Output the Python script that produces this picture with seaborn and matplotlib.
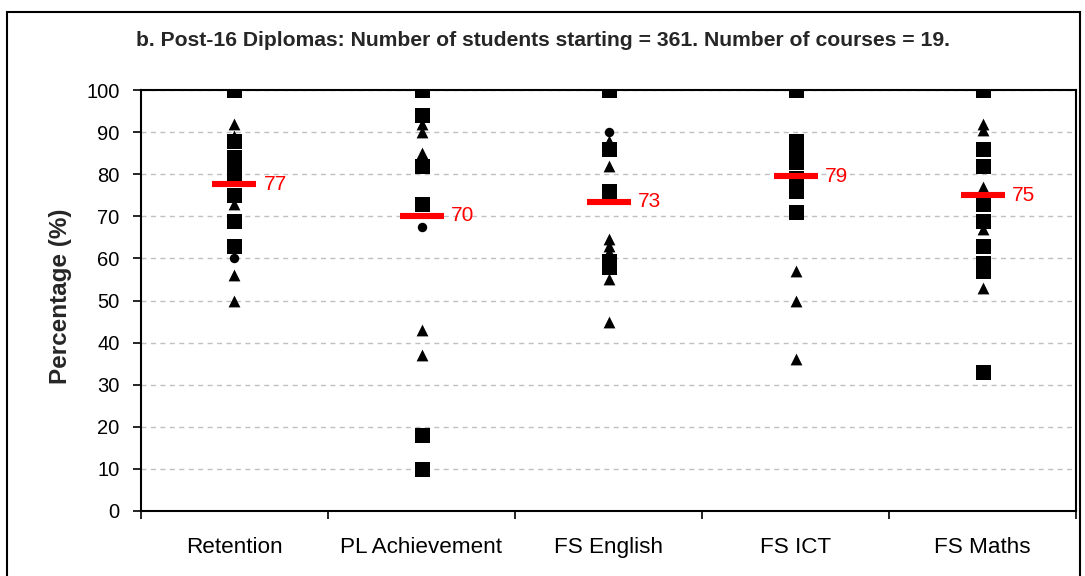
import numpy as np
import pandas as pd
import seaborn as sns
import matplotlib.pyplot as plt
from matplotlib.patches import Rectangle

sns.set_theme(style="white")
plt.rcParams['font.family'] = ['Liberation Sans', 'DejaVu Sans']

categories = ["Retention", "PL Achievement", "FS English", "FS ICT", "FS Maths"]

# per-course percentages, split by the marker used in the original
squareValues = [
    [100, 88, 84, 82, 80, 75, 69, 63],
    [100, 94, 82, 73, 18, 10],
    [100, 86, 76, 59.5, 58],
    [100, 88, 86, 85, 83, 79, 77, 76, 71],
    [100, 86, 82, 73, 69, 63, 59, 57, 33],
]
triangleValues = [
    [92, 89, 73, 56, 50],
    [92, 90, 85, 43, 37],
    [88, 82, 64.5, 63, 61.5, 55, 45],
    [57, 50, 36],
    [92, 90.5, 77, 67, 53],
]
circleValues = [
    [60],
    [67.5],
    [90],
    [],
    [],
]

meanValues = [77.6, 70.1, 73.5, 79.5, 75.0]
meanLabels = ["77", "70", "73", "79", "75"]

title = "b. Post-16 Diplomas: Number of students starting = 361. Number of courses = 19."


def toLong(values, shape):
    rows = []
    for cat, vals in zip(categories, values):
        for v in vals:
            rows.append({"Course": cat, "Percentage": v, "shape": shape})
    return rows


df = pd.DataFrame(toLong(squareValues, "s") + toLong(triangleValues, "^") + toLong(circleValues, "o"))
dfMean = pd.DataFrame({"Course": categories, "Mean": meanValues})

fig = plt.figure(figsize=(10.85, 5.76), dpi=100)
ax = fig.add_axes([141 / 1085, 65 / 576, 935 / 1085, 421 / 576])

markerSizes = {"s": 10.8, "^": 8.5, "o": 6.8}
for shape, size in markerSizes.items():
    sub = df[df["shape"] == shape]
    sns.stripplot(data=sub, x="Course", y="Percentage", order=categories, jitter=False,
                  marker=shape, size=size, color="black", linewidth=0, ax=ax, zorder=3)

# mean bars
sns.stripplot(data=dfMean, x="Course", y="Mean", order=categories, jitter=False,
              marker="_", size=31, linewidth=4.4, color="red", edgecolor="red", ax=ax, zorder=4)

for i, (m, lab) in enumerate(zip(meanValues, meanLabels)):
    ax.annotate(lab, (i, m), xytext=(21, 0), textcoords="offset points",
                color="red", va="center", ha="left", fontsize=15)

ax.set_xlim(-0.5, len(categories) - 0.5)
ax.set_ylim(0, 100)
ax.set_yticks(np.arange(0, 101, 10))
ax.set_xlabel("")
ax.set_ylabel("Percentage (%)", fontsize=17.5, fontweight="bold")
ax.yaxis.set_label_coords(-0.074, 0.51)

ax.yaxis.grid(True, color="#c0c0c0", linestyle=(0, (3.6, 3.2)), linewidth=1)
ax.xaxis.grid(False)
ax.set_axisbelow(True)

ax.set_xticks(np.arange(-0.5, len(categories)), minor=True)
ax.tick_params(axis="x", which="major", length=0, pad=18.5, labelsize=16.2, colors="black")
ax.tick_params(axis="x", which="minor", length=6, width=1.2, direction="out", color="black", bottom=True)
ax.tick_params(axis="y", length=6, width=1.2, direction="out", pad=9.5, labelsize=14.5, colors="black", left=True)

for sp in ax.spines.values():
    sp.set_color("black")
    sp.set_linewidth(1.5)

fig.text(0.5, 1 - 40 / 576, title, ha="center", va="center", fontsize=15.2, fontweight="bold")

fig.patches.append(Rectangle((7 / 1085, -0.1), 1073 / 1085, 1.1 - 12 / 576,
                             transform=fig.transFigure, fill=False, edgecolor="black", linewidth=1.5))

fig.savefig("out.png", dpi=100)
